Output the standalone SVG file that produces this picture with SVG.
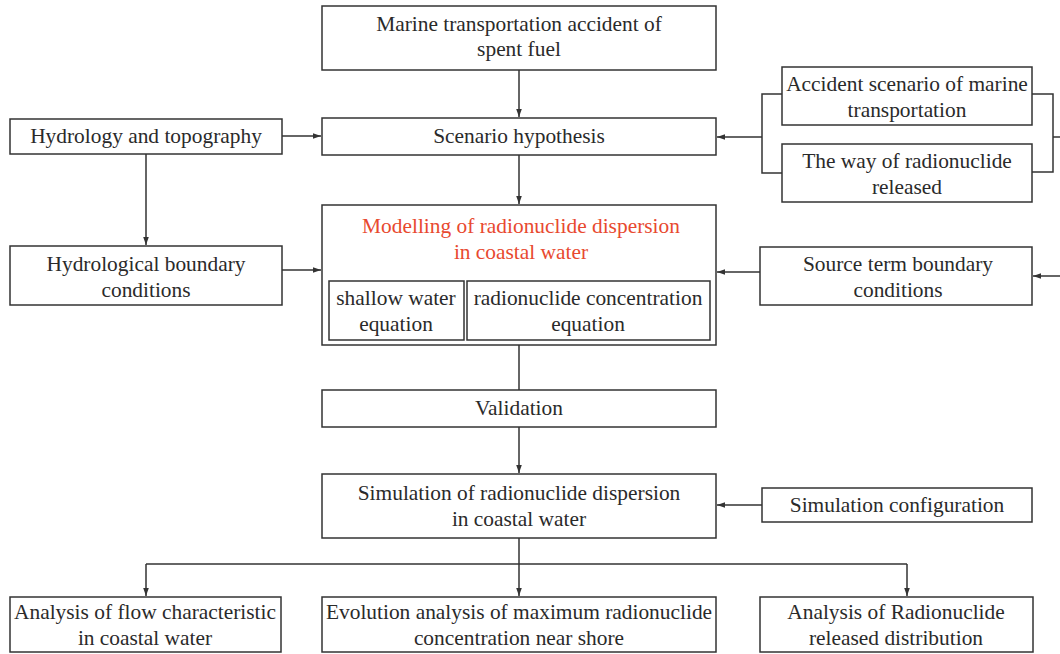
<svg xmlns="http://www.w3.org/2000/svg" width="1060" height="654" viewBox="0 0 1060 654">
<style>
rect.b{fill:#fff;stroke:#333;stroke-width:1.5}
text{font-family:"Liberation Serif","Times New Roman",serif;font-size:21.4px;fill:#2a2a2a;text-anchor:middle}
text.red{fill:#e8492f}
.c{fill:none;stroke:#333;stroke-width:1.5}
</style>
<defs>
<marker id="ah" viewBox="0 0 10 10" refX="10" refY="5" markerWidth="8" markerHeight="8" markerUnits="userSpaceOnUse" orient="auto">
<path d="M0,1.5 L10,5 L0,8.5 Z" fill="#333"/>
</marker>
</defs>
<rect width="1060" height="654" fill="#fff"/>
<g id="connectors">
<path class="c" d="M519,70 V117" marker-end="url(#ah)"/>
<path class="c" d="M519,155 V204" marker-end="url(#ah)"/>
<path class="c" d="M282,136 H321" marker-end="url(#ah)"/>
<path class="c" d="M146,154 V245" marker-end="url(#ah)"/>
<path class="c" d="M282,270 H321" marker-end="url(#ah)"/>
<path class="c" d="M782,94 H762 V173 H782"/>
<path class="c" d="M762,137 H717" marker-end="url(#ah)"/>
<path class="c" d="M1032,94 H1053 V172 H1032"/>
<path class="c" d="M1053,137 H1060"/>
<path class="c" d="M760,272 H717" marker-end="url(#ah)"/>
<path class="c" d="M1060,276 H1033" marker-end="url(#ah)"/>
<path class="c" d="M519,345 V390"/>
<path class="c" d="M519,427 V473" marker-end="url(#ah)"/>
<path class="c" d="M762,505 H717" marker-end="url(#ah)"/>
<path class="c" d="M519,538 V596" marker-end="url(#ah)"/>
<path class="c" d="M146,564 H907"/>
<path class="c" d="M146,564 V596" marker-end="url(#ah)"/>
<path class="c" d="M907,564 V596" marker-end="url(#ah)"/>
</g>
<g id="n-marine"><rect class="b" x="322" y="6" width="394" height="64"/><text x="519" y="31">Marine transportation accident of</text><text x="519" y="56">spent fuel</text></g>
<g id="n-scenario"><rect class="b" x="322" y="118" width="394" height="37"/><text x="519" y="143">Scenario hypothesis</text></g>
<g id="n-hydro"><rect class="b" x="10" y="119" width="272" height="35"/><text x="146" y="143">Hydrology and topography</text></g>
<g id="n-accident"><rect class="b" x="782" y="67" width="250" height="58"/><text x="907" y="91">Accident scenario of marine</text><text x="907" y="117">transportation</text></g>
<g id="n-way"><rect class="b" x="782" y="144" width="250" height="58"/><text x="907" y="168">The way of radionuclide</text><text x="907" y="194">released</text></g>
<g id="n-hbc"><rect class="b" x="10" y="246" width="272" height="59"/><text x="146" y="271">Hydrological boundary</text><text x="146" y="297">conditions</text></g>
<g id="n-model"><rect class="b" x="322" y="205" width="394" height="140"/><text class="red" x="521" y="233">Modelling of radionuclide dispersion</text><text class="red" x="521" y="259">in coastal water</text>
<rect class="b" x="329" y="281" width="135" height="59"/><text x="396" y="305">shallow water</text><text x="396" y="331">equation</text>
<rect class="b" x="467" y="281" width="243" height="59"/><text x="588" y="305">radionuclide concentration</text><text x="588" y="331">equation</text></g>
<g id="n-source"><rect class="b" x="760" y="247" width="272" height="58"/><text x="898" y="271">Source term boundary</text><text x="898" y="297">conditions</text></g>
<g id="n-valid"><rect class="b" x="322" y="390" width="394" height="37"/><text x="519" y="415">Validation</text></g>
<g id="n-sim"><rect class="b" x="322" y="474" width="394" height="64"/><text x="519" y="500">Simulation of radionuclide dispersion</text><text x="519" y="526">in coastal water</text></g>
<g id="n-simconf"><rect class="b" x="762" y="488" width="270" height="34"/><text x="897" y="512">Simulation configuration</text></g>
<g id="n-flow"><rect class="b" x="10" y="597" width="271" height="55"/><text x="145" y="619">Analysis of flow characteristic</text><text x="145" y="645">in coastal water</text></g>
<g id="n-evol"><rect class="b" x="322" y="597" width="394" height="55"/><text x="519" y="619">Evolution analysis of maximum radionuclide</text><text x="519" y="645">concentration near shore</text></g>
<g id="n-dist"><rect class="b" x="760" y="597" width="273" height="55"/><text x="896" y="619">Analysis of Radionuclide</text><text x="896" y="645">released distribution</text></g>
</svg>
